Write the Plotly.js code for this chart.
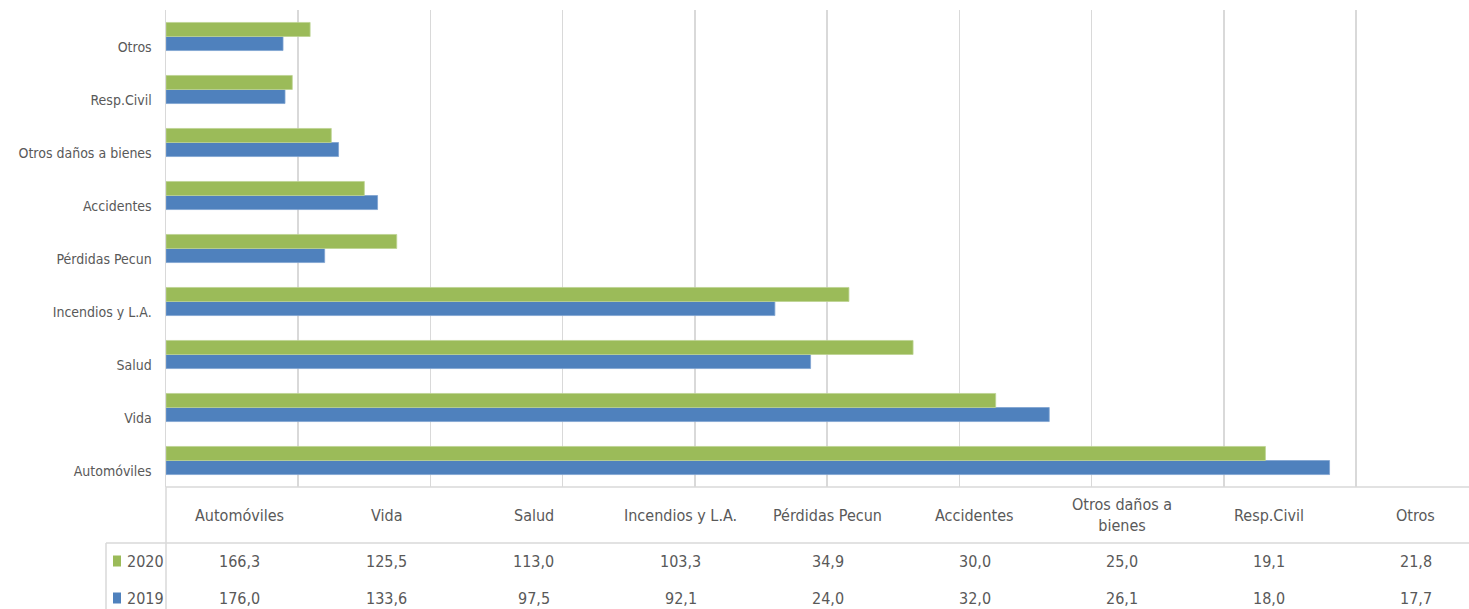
<!DOCTYPE html>
<html>
<head>
<meta charset="utf-8">
<script src="https://cdn.plot.ly/plotly-3.0.1.min.js"></script>
<style>html,body{margin:0;padding:0;background:#fff;}#chart{width:1469px;height:609px;}</style>
</head>
<body>
<div id="chart"></div>
<script>
// Categories, bottom to top as drawn
const categories = ["Automóviles","Vida","Salud","Incendios y L.A.","Pérdidas Pecun","Accidentes","Otros daños a bienes","Resp.Civil","Otros"];
const values2020 = [166.3,125.5,113.0,103.3,34.9,30.0,25.0,19.1,21.8];
const values2019 = [176.0,133.6,97.5,92.1,24.0,32.0,26.1,18.0,17.7];
const seriesNames = ["2019","2020"];
const tableHeaders = ["Automóviles","Vida","Salud","Incendios y L.A.","Pérdidas Pecun","Accidentes","Otros daños a<br>bienes","Resp.Civil","Otros"];
const xTickStep = 20;

const W = 1469, H = 609;
const L = 166, R = 0, T = 10, B = 122;
const plotW = W - L - R, plotH = H - T - B;
const pxPerUnit = (1356 - 166) / 180;
const xMax = plotW / pxPerUnit;
const COLW = 147; // data-table column width in px

const BLUE = "#4F81BD", GREEN = "#9BBB59";
const TXT = "#595959", GRID = "#D9D9D9", TABLE = "#D9D9D9";
const FONT = "'Liberation Sans Narrow','DejaVu Sans Condensed','Arial Narrow',sans-serif";

const py = p => -(p - (H - B)) / plotH;       // pixel y -> paper y
const px = p => (p - L) / plotW;              // pixel x -> paper x
const fmt = v => v.toFixed(1).replace('.', ',');

const traces = [
  {type:'bar', orientation:'h', name:seriesNames[0], y:categories, x:values2019,
   marker:{color:BLUE, line:{color:'#7FA3D1', width:0.8}}, hoverinfo:'x+y'},
  {type:'bar', orientation:'h', name:seriesNames[1], y:categories, x:values2020,
   marker:{color:GREEN, line:{color:'#BCD392', width:0.8}}, hoverinfo:'x+y'}
];

const annotations = [];
const shapes = [];
tableHeaders.forEach((h, i) => {
  const xc = px(L + COLW * (i + 0.5));
  annotations.push({xref:'paper', yref:'paper', x:xc, y:py(515), text:h, showarrow:false,
    xanchor:'center', yanchor:'middle', font:{family:FONT, size:16, color:TXT}});
  annotations.push({xref:'paper', yref:'paper', x:xc, y:py(561), text:fmt(values2020[i]), showarrow:false,
    xanchor:'center', yanchor:'middle', font:{family:FONT, size:16, color:TXT}});
  annotations.push({xref:'paper', yref:'paper', x:xc, y:py(598), text:fmt(values2019[i]), showarrow:false,
    xanchor:'center', yanchor:'middle', font:{family:FONT, size:16, color:TXT}});
});
// legend keys in the table
[[seriesNames[1], GREEN, 561], [seriesNames[0], BLUE, 598]].forEach(([name, col, yy]) => {
  shapes.push({type:'rect', xref:'paper', yref:'paper', x0:px(113), x1:px(121), y0:py(yy-5.5), y1:py(yy+5.5),
    fillcolor:col, line:{width:0}});
  annotations.push({xref:'paper', yref:'paper', x:px(125), y:py(yy), text:name, showarrow:false,
    xanchor:'left', yanchor:'middle', font:{family:FONT, size:16, color:TXT}});
});
// table borders
shapes.push({type:'line', xref:'paper', yref:'paper', x0:0, x1:1, y0:py(487), y1:py(487), line:{color:TABLE, width:1.5}});
shapes.push({type:'line', xref:'paper', yref:'paper', x0:px(106), x1:1, y0:py(543), y1:py(543), line:{color:TABLE, width:1.5}});
shapes.push({type:'line', xref:'paper', yref:'paper', x0:0, x1:0, y0:py(487), y1:py(612), line:{color:TABLE, width:1.5}});
shapes.push({type:'line', xref:'paper', yref:'paper', x0:px(106), x1:px(106), y0:py(543), y1:py(612), line:{color:TABLE, width:1.5}});

const layout = {
  width:W, height:H,
  margin:{l:L, r:R, t:T, b:B, pad:0},
  paper_bgcolor:'#fff', plot_bgcolor:'#fff',
  barmode:'group', bargap:0.47, bargroupgap:0,
  showlegend:false,
  font:{family:FONT, color:TXT, size:14},
  xaxis:{range:[0, xMax], dtick:xTickStep, tick0:0, showgrid:true, gridcolor:GRID, gridwidth:1.5,
         showticklabels:false, zeroline:false, showline:false, ticks:'', fixedrange:true},
  yaxis:{type:'category', categoryorder:'array', categoryarray:categories, showgrid:false,
         showline:true, linecolor:GRID, linewidth:1.5, ticks:'', ticklabelstandoff:10, ticklabelshift:11,
         tickfont:{family:FONT, size:14, color:TXT}, zeroline:false, fixedrange:true},
  annotations:annotations,
  shapes:shapes
};

Plotly.newPlot('chart', traces, layout, {displayModeBar:false, staticPlot:true});
</script>
</body>
</html>
